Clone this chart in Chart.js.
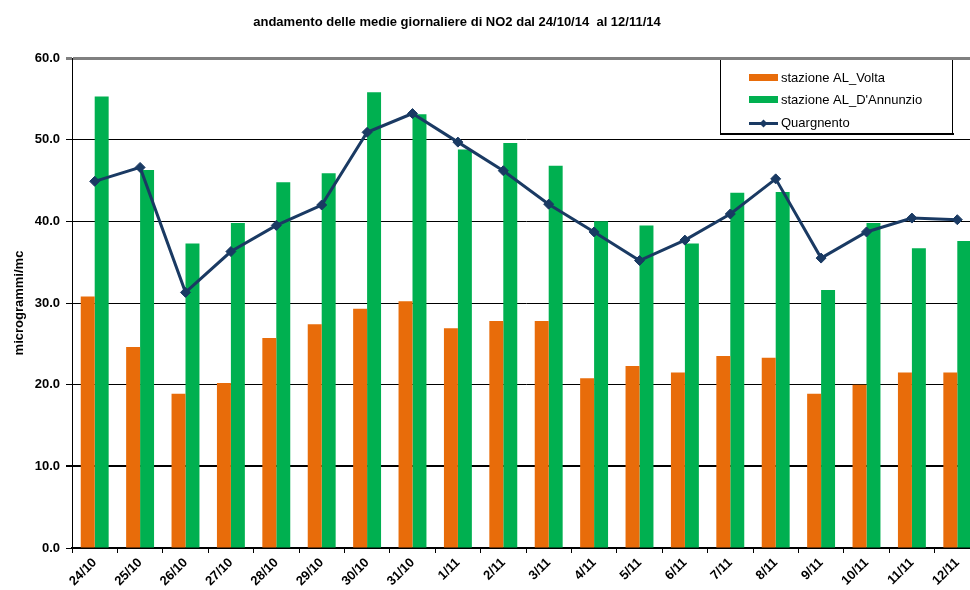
<!DOCTYPE html>
<html><head><meta charset="utf-8">
<script src="https://cdn.jsdelivr.net/npm/chart.js@4.4.1/dist/chart.umd.min.js"></script>
<style>html,body{margin:0;padding:0;background:#fff;overflow:hidden}
#wrap{width:970px;height:590px;overflow:hidden;position:relative;background:#fff}
canvas{display:block}</style></head>
<body><div id="wrap"><canvas id="c" width="986" height="590"></canvas></div>
<script>
const categories = ['24/10','25/10','26/10','27/10','28/10','29/10','30/10','31/10','1/11','2/11','3/11','4/11','5/11','6/11','7/11','8/11','9/11','10/11','11/11','12/11'];
const volta = [30.8,24.6,18.9,20.2,25.7,27.4,29.3,30.2,26.9,27.8,27.8,20.8,22.3,21.5,23.5,23.3,18.9,20.0,21.5,21.5];
const dannunzio = [55.3,46.3,37.3,39.8,44.8,45.9,55.8,53.1,48.8,49.6,46.8,40.0,39.5,37.3,43.5,43.6,31.6,39.8,36.7,37.6];
const quargnento = [44.9,46.6,31.3,36.3,39.5,42.0,50.9,53.2,49.7,46.2,42.1,38.7,35.2,37.7,40.9,45.2,35.5,38.7,40.4,40.2];
const seriesNames = ['stazione AL_Volta', "stazione AL_D'Annunzio", 'Quargnento'];
const titleText = 'andamento delle medie giornaliere di NO2 dal 24/10/14  al 12/11/14';
const yTitle = 'microgrammi/mc';
const yMin = 0, yMax = 60, yStep = 10;

const ORANGE = '#E86C0A', GREEN = '#00B050', NAVY = '#1A3A63';
const FONT = '"Liberation Sans", Arial, sans-serif';

const decor = {
  id: 'decor',
  afterDraw(chart) {
    const ctx = chart.ctx;
    ctx.save();
    // title
    ctx.fillStyle = '#000';
    ctx.font = 'bold 13px ' + FONT;
    ctx.textAlign = 'center';
    ctx.textBaseline = 'alphabetic';
    ctx.fillText(titleText, 457, 26);
    // legend box
    ctx.fillStyle = '#fff';
    ctx.fillRect(720, 60, 233, 74);
    ctx.strokeStyle = '#000';
    ctx.lineWidth = 1;
    ctx.beginPath();
    ctx.moveTo(720.5, 60); ctx.lineTo(720.5, 134);
    ctx.moveTo(952.5, 60); ctx.lineTo(952.5, 134);
    ctx.stroke();
    ctx.lineWidth = 2;
    ctx.beginPath();
    ctx.moveTo(720, 134); ctx.lineTo(954, 134);
    ctx.stroke();
    ctx.font = '13px ' + FONT;
    ctx.textAlign = 'left';
    ctx.fillStyle = ORANGE;
    ctx.fillRect(749, 74, 29, 7);
    ctx.fillStyle = GREEN;
    ctx.fillRect(749, 96, 29, 7);
    ctx.strokeStyle = NAVY;
    ctx.lineWidth = 3;
    ctx.beginPath();
    ctx.moveTo(749, 123.5); ctx.lineTo(778, 123.5);
    ctx.stroke();
    ctx.fillStyle = NAVY;
    ctx.beginPath();
    ctx.moveTo(763.5, 119.5); ctx.lineTo(767.5, 123.5); ctx.lineTo(763.5, 127.5); ctx.lineTo(759.5, 123.5); ctx.closePath();
    ctx.fill();
    ctx.fillStyle = '#000';
    ctx.fillText(seriesNames[0], 781, 82);
    ctx.fillText(seriesNames[1], 781, 104);
    ctx.fillText(seriesNames[2], 781, 127);
    ctx.restore();
  }
};

new Chart(document.getElementById('c'), {
  data: {
    labels: categories,
    datasets: [
      { type: 'bar', label: seriesNames[0], data: volta, backgroundColor: ORANGE, borderWidth: 0, order: 1,
        categoryPercentage: 0.615, barPercentage: 1.0 },
      { type: 'bar', label: seriesNames[1], data: dannunzio, backgroundColor: GREEN, borderWidth: 0, order: 1,
        categoryPercentage: 0.615, barPercentage: 1.0 },
      { type: 'line', label: seriesNames[2], data: quargnento, borderColor: NAVY, backgroundColor: NAVY,
        borderWidth: 3, pointStyle: 'rectRot', pointRadius: 5, pointBackgroundColor: NAVY, pointBorderColor: NAVY,
        pointBorderWidth: 1, tension: 0, order: 0, fill: false }
    ]
  },
  options: {
    responsive: false,
    animation: false,
    devicePixelRatio: 1,
    layout: { padding: { left: 12, right: 4, top: 58, bottom: 0 } },
    plugins: { legend: { display: false }, title: { display: false }, tooltip: { enabled: false } },
    scales: {
      x: {
        type: 'category',
        offset: true,
        grid: { display: true, offset: true, drawOnChartArea: false, drawTicks: true, tickLength: 5, color: '#000', lineWidth: 1 },
        border: { display: true, color: '#000', width: 2 },
        ticks: { autoSkip: false, maxRotation: 45, minRotation: 45, padding: 2, color: '#000',
          font: { family: FONT, size: 13, weight: 'bold' } },
        afterFit(s) { s.height = 42; }
      },
      y: {
        min: yMin, max: yMax,
        ticks: { stepSize: yStep, padding: 6, color: '#000',
          font: { family: FONT, size: 13, weight: 'bold' },
          callback: v => Number(v).toFixed(1) },
        grid: { drawTicks: true, tickLength: 6,
          color: c => (c.tick && c.tick.value === 60) ? '#808080' : '#000',
          lineWidth: c => (c.tick && c.tick.value === 60) ? 3 : ((c.tick && c.tick.value === 10) ? 2 : 1) },
        border: { display: true, color: '#000', width: 1 },
        title: { display: true, text: yTitle, color: '#000', padding: { top: 0, bottom: 0 },
          font: { family: FONT, size: 13, weight: 'bold' } },
        afterFit(s) { s.width = 60; }
      }
    }
  },
  plugins: [decor]
});
</script>
</body></html>
